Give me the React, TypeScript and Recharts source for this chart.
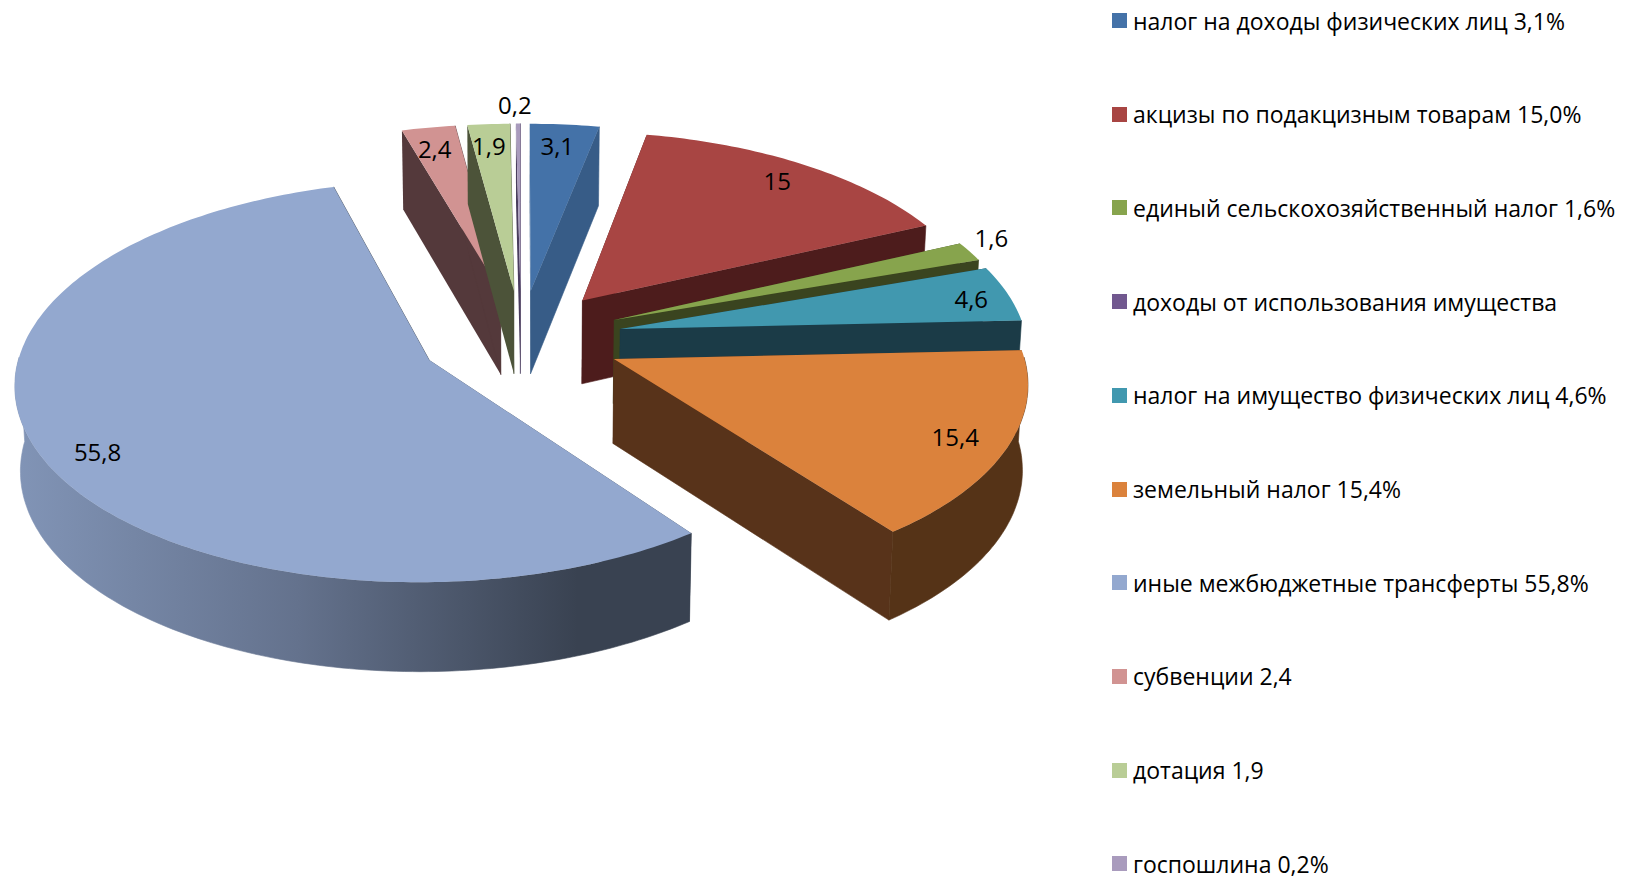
import React from "react";
import { PieChart, Pie, Legend } from "recharts";

const names = [
  "налог на доходы физических лиц 3,1%",
  "акцизы по подакцизным товарам 15,0%",
  "единый сельскохозяйственный налог 1,6%",
  "доходы от использования имущества",
  "налог на имущество физических лиц 4,6%",
  "земельный налог 15,4%",
  "иные межбюджетные трансферты 55,8%",
  "субвенции 2,4",
  "дотация 1,9",
  "госпошлина 0,2%",
];
const values = [3.1, 15, 1.6, 0, 4.6, 15.4, 55.8, 2.4, 1.9, 0.2];
const colors = ["#4472A8", "#A84543", "#87A44D", "#71588F", "#4198AF", "#DB823C", "#93A8CF", "#D19392", "#B9CD96", "#A99BBD"];
const wallColors = ["#375C87", "#4D1C1C", "#3A441F", "#3A2C4A", "#1B3B47", "#58331A", "#38424F", "#54393B", "#4C5339", "#4A3D5E"];
// how far along its slice each data label sits, and how many degrees it is turned off the middle
const labelReach = [0.86, 0.88, 1.1, 0, 0.91, 0.88, 0.87, 0.86, 0.86, 1.13];
const labelTurn = [0, 0, 2.5, 0, -0.5, 0, 3.5, 0, 0, 0];

const data = names.map((name, i) => ({
  name,
  value: values[i],
  fill: colors[i],
  wall: wallColors[i],
  reach: labelReach[i],
  turn: labelTurn[i],
}));

const FONT = "'Open Sans', sans-serif";
const CX = 521;
const CY = 338;
const RADIUS = 406;
const TILT = 194 / 406;
const PERSPECTIVE = 0.105;
const EXPLOSION = 0.25;
const DEPTH = 84;

const toRad = (deg: number) => (deg * Math.PI) / 180;

// chart angle (counter-clockwise from 3 o'clock) -> point on a flat unit disc, y pointing at the viewer
const disc = (angle: number, r = 1) => ({ u: r * Math.cos(toRad(angle)), v: -r * Math.sin(toRad(angle)) });

const project = (u: number, v: number, cx: number, cy: number, radius: number) => {
  const f = 1 / (1 - PERSPECTIVE * v);
  const x = cx + radius * u * f;
  const y = cy + radius * TILT * v * f;
  return { x, y, f };
};

const lower = (p: { x: number; y: number; f: number }, cx: number) => ({
  x: p.x + (cx - p.x) * 0.011,
  y: p.y + DEPTH * Math.sqrt(p.f),
});

const toPath = (pts: { x: number; y: number }[]) =>
  pts.map((p, i) => `${i ? "L" : "M"}${p.x.toFixed(1)} ${p.y.toFixed(1)}`).join(" ") + " Z";

const shadeHex = (hex: string, k: number) => {
  const n = parseInt(hex.slice(1), 16);
  const c = [n >> 16, (n >> 8) & 255, n & 255].map((v) => Math.round(v * k));
  return `rgb(${c[0]},${c[1]},${c[2]})`;
};

const Slice = (props: any) => {
  const { cx, cy, outerRadius, startAngle, endAngle, fill } = props;
  if (Math.abs(startAngle - endAngle) < 0.001) return null;
  const wall = props.wall ?? props.payload?.wall;
  const mid = disc((startAngle + endAngle) / 2, EXPLOSION);

  const steps = Math.max(2, Math.ceil(Math.abs(startAngle - endAngle)));
  const rim: { x: number; y: number; f: number; v: number }[] = [];
  for (let i = 0; i <= steps; i++) {
    const d = disc(startAngle + ((endAngle - startAngle) * i) / steps);
    rim.push({ ...project(mid.u + d.u, mid.v + d.v, cx, cy, outerRadius), v: d.v });
  }
  const apex = project(mid.u, mid.v, cx, cy, outerRadius);
  const first = rim[0];
  const last = rim[rim.length - 1];
  const front = rim.filter((p) => p.v >= -0.02);
  const gradId = `wall-${Math.round(startAngle * 10)}`.replace("-", "m");

  return (
    <g>
      <defs>
        <linearGradient id={gradId} gradientUnits="userSpaceOnUse" x1={18} x2={640} y1={0} y2={0}>
          <stop offset="0" stopColor={shadeHex(fill, 0.88)} />
          <stop offset="0.45" stopColor={shadeHex(fill, 0.68)} />
          <stop offset="0.9" stopColor={shadeHex(fill, 0.39)} />
          <stop offset="1" stopColor={shadeHex(fill, 0.39)} />
        </linearGradient>
      </defs>
      <path d={toPath([apex, first, lower(first, cx), lower(apex, cx)])} fill={wall} />
      <path d={toPath([apex, last, lower(last, cx), lower(apex, cx)])} fill={wall} stroke={wall} strokeWidth={0.6} />
      {front.length > 1 && (
        <path
          d={toPath([...front, ...[...front].reverse().map((p) => lower(p, cx))])}
          fill={`url(#${gradId})`}
          stroke={`url(#${gradId})`}
          strokeWidth={0.6}
        />
      )}
      <path d={toPath([apex, ...rim])} fill={fill} />
    </g>
  );
};

const renderLabel = (props: any) => {
  const { cx, cy, outerRadius, midAngle, value } = props;
  if (!value) return null;
  const entry = props.payload ?? props;
  const mid = disc(midAngle, EXPLOSION);
  const d = disc(midAngle + entry.turn, entry.reach);
  const p = project(mid.u + d.u, mid.v + d.v, cx, cy, outerRadius);
  return (
    <text key={midAngle} x={p.x - 3} y={p.y} textAnchor="middle" dominantBaseline="central" fontFamily={FONT} fontSize={24} fill="#000">
      {String(value).replace(".", ",")}
    </text>
  );
};

const LegendList = ({ payload }: any) => (
  <div style={{ position: "relative", width: 514, height: 877 }}>
    {(payload || []).map((item: any, i: number) => (
      <div
        key={item.value}
        style={{ position: "absolute", left: 0, top: 20.5 + i * 93.7 - 12, height: 24, lineHeight: "24px", display: "flex", alignItems: "center", whiteSpace: "nowrap", fontFamily: FONT, fontSize: 23, color: "#000" }}
      >
        <span style={{ width: 15, height: 15, background: item.color, marginRight: 6, flex: "none" }} />
        {item.value}
      </div>
    ))}
  </div>
);

export default function App() {
  return (
    <div style={{ position: "absolute", left: 0, top: 0, width: 1626, height: 877, background: "#fff", overflow: "hidden" }}>
      <PieChart width={1626} height={877} margin={{ top: 0, right: 0, bottom: 0, left: 0 }}>
        <Pie
          data={data}
          dataKey="value"
          nameKey="name"
          cx={CX}
          cy={CY}
          innerRadius={0}
          outerRadius={RADIUS}
          startAngle={90}
          endAngle={-270}
          stroke="none"
          shape={Slice}
          label={renderLabel}
          labelLine={false}
          isAnimationActive={false}
        />
        <Legend
          layout="vertical"
          itemSorter={null}
          content={<LegendList />}
          wrapperStyle={{ position: "absolute", left: 1112, top: 0, width: 514, height: 877 }}
        />
      </PieChart>
    </div>
  );
}
